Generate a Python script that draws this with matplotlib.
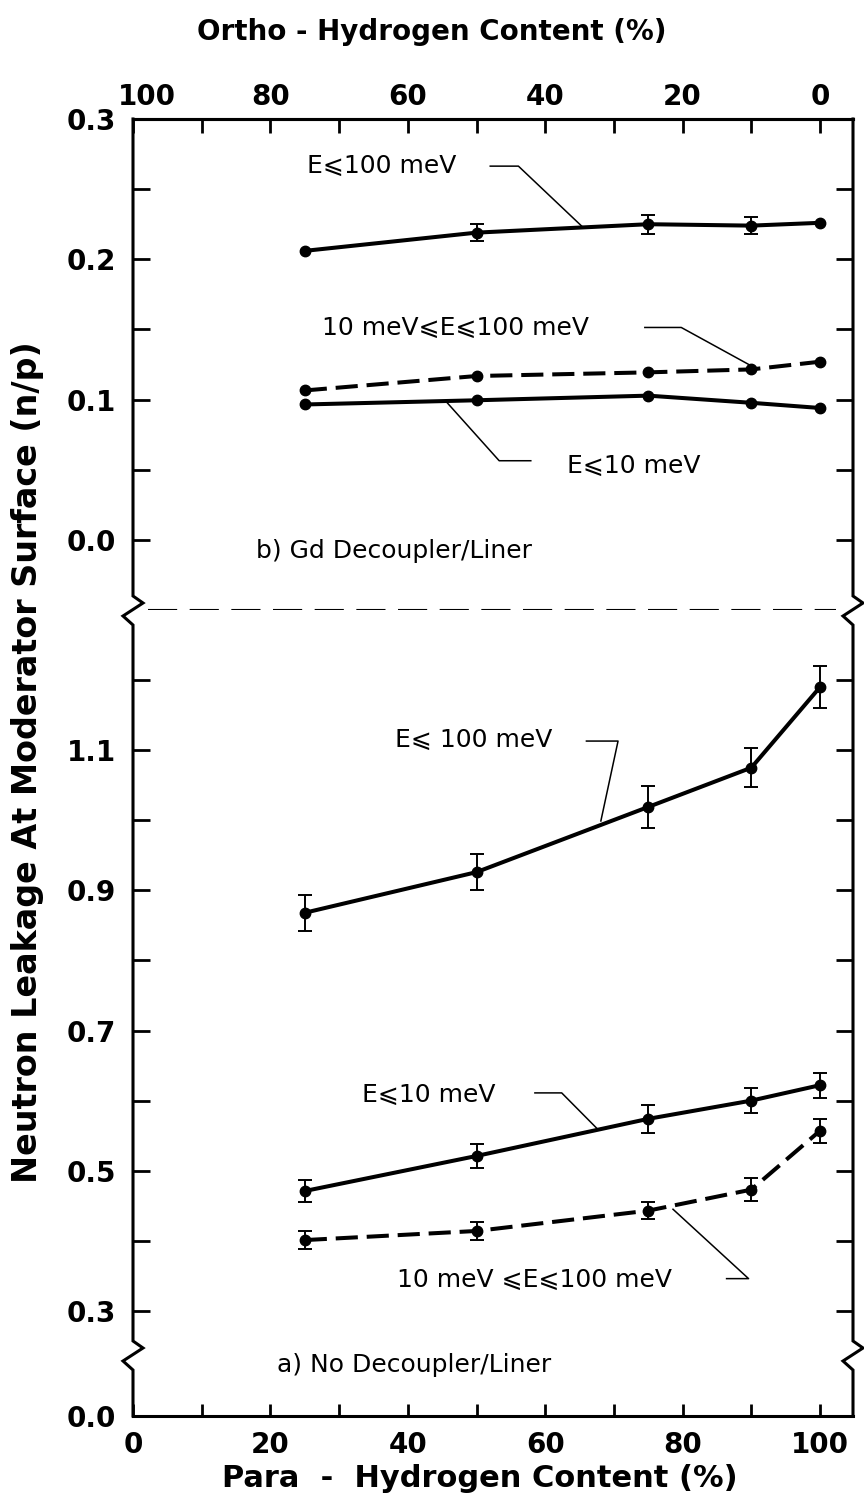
import numpy as np
import matplotlib
matplotlib.use("Agg")
import matplotlib.pyplot as plt
from matplotlib.lines import Line2D
from matplotlib.transforms import ScaledTranslation

# ---------------- data ----------------
para = [25, 50, 75, 90, 100]

# b) Gd Decoupler/Liner
b_e100 = [0.206, 0.219, 0.225, 0.224, 0.226]
b_e100_err = [np.nan, 0.006, 0.0067, 0.006, np.nan]
b_e10_100 = [0.1065, 0.1168, 0.1194, 0.1215, 0.127]
b_e10 = [0.0965, 0.0995, 0.1028, 0.0977, 0.094]

# a) No Decoupler/Liner
a_e100 = [0.868, 0.926, 1.019, 1.075, 1.190]
a_e100_err = [0.026, 0.026, 0.030, 0.028, 0.030]
a_e10 = [0.471, 0.521, 0.574, 0.600, 0.622]
a_e10_err = [0.016, 0.017, 0.020, 0.018, 0.018]
a_e10_100 = [0.401, 0.414, 0.443, 0.473, 0.557]
a_e10_100_err = [0.013, 0.013, 0.012, 0.016, 0.017]

b_yticks = [0.0, 0.1, 0.2, 0.3]
b_yminor = [0.05, 0.15, 0.25]
a_yticks = [0.0, 0.3, 0.5, 0.7, 0.9, 1.1]
a_yminor = [0.4, 0.6, 0.8, 1.0, 1.2]
x_ticks = [0, 20, 40, 60, 80, 100]
x_minor = [10, 30, 50, 70, 90]
ortho_ticks = [100, 80, 60, 40, 20, 0]
ortho_minor = [90, 70, 50, 30, 10]

LEQ = "\u2a7d"

plt.rcParams['font.family'] = ['DejaVu Sans']

W, H = 864, 1507
fig = plt.figure(figsize=(W / 100, H / 100), dpi=100)

xl, xr = 133, 853
y_top, y_mid, y_bot = 119, 610, 1416
L, R = xl / W, xr / W
axb = fig.add_axes([L, 1 - y_mid / H, R - L, (y_mid - y_top) / H])
axa = fig.add_axes([L, 1 - y_bot / H, R - L, (y_bot - y_mid) / H])

XMAX = 104.8
LW = 2.9
MS = 7.5
tick_fs = 20
ann_fs = 18

# broken scale for panel a: 0..0.3 compressed, 0.3.. linear
def fwd(y):
    y = np.asarray(y, dtype=float)
    return np.where(y < 0.3, y * 0.5, 0.15 + (y - 0.3))

def inv(u):
    u = np.asarray(u, dtype=float)
    return np.where(u < 0.15, u / 0.5, u - 0.15 + 0.3)

axa.set_yscale('function', functions=(fwd, inv))

for ax in (axb, axa):
    ax.set_xlim(0, XMAX)
    ax.spines['left'].set_visible(False)
    ax.spines['right'].set_visible(False)
    for s in ('top', 'bottom'):
        ax.spines[s].set_linewidth(2.2)

axb.spines['bottom'].set_visible(False)
axa.spines['top'].set_visible(False)

axb.set_ylim(-0.05, 0.3)
axa.set_ylim(0.0, 1.3)

axb.set_yticks(b_yticks)
axb.set_yticks(b_yminor, minor=True)
axb.set_yticklabels([f"{v:.1f}" for v in b_yticks], fontweight='bold', fontsize=tick_fs)
axa.set_yticks(a_yticks)
axa.set_yticks(a_yminor, minor=True)
axa.set_yticklabels([f"{v:.1f}" for v in a_yticks], fontweight='bold', fontsize=tick_fs)
for ax in (axb, axa):
    ax.tick_params(axis='y', which='both', direction='in', length=12, width=2.0,
                   left=True, right=True, pad=12)

axb.tick_params(axis='x', which='both', bottom=False, labelbottom=False, top=False)
axa.tick_params(axis='x', which='both', top=False, bottom=True, direction='in',
                length=9, width=2.0, pad=11)
axa.set_xticks(x_ticks)
axa.set_xticks(x_minor, minor=True)
axa.set_xticklabels([str(v) for v in x_ticks], fontweight='bold', fontsize=tick_fs)
axa.set_xlabel("Para  -  Hydrogen Content (%)", fontsize=22, fontweight='bold', labelpad=4)
axa.xaxis.set_label_coords((480 - xl) / (xr - xl), -0.06)

sec = axb.secondary_xaxis('top', functions=(lambda p: 100 - p, lambda o: 100 - o))
sec.spines['top'].set_linewidth(2.2)
sec.set_xticks(ortho_ticks)
sec.set_xticks(ortho_minor, minor=True)
sec.set_xticklabels([str(v) for v in ortho_ticks], fontweight='bold', fontsize=tick_fs)
sec.tick_params(axis='x', which='both', direction='in', length=10, width=2.0, pad=6)

# nudge the corner "100" label to the right, as in the original
t0 = sec.xaxis.get_major_ticks()[0]
for lab in (t0.label1, t0.label2):
    lab.set_transform(lab.get_transform() + ScaledTranslation(0.14, 0, fig.dpi_scale_trans))

fig.text(432 / W, 1 - 32 / H, "Ortho - Hydrogen Content (%)",
         ha='center', va='center', fontsize=20, fontweight='bold')

fig.text(28 / W, 1 - 762 / H, "Neutron Leakage At Moderator Surface (n/p)",
         rotation=90, ha='center', va='center', fontsize=24, fontweight='bold')

dash_style = (5.5, 2.2)

# ---------------- panel b ----------------
axb.plot(para, b_e100, '-', color='black', lw=LW, marker='o', ms=MS)
axb.errorbar(para, b_e100, yerr=b_e100_err, fmt='none', ecolor='black',
             elinewidth=1.4, capsize=5, capthick=1.4)
ln, = axb.plot(para, b_e10_100, '--', color='black', lw=LW, marker='o', ms=MS)
ln.set_dashes(dash_style)
axb.plot(para, b_e10, '-', color='black', lw=LW, marker='o', ms=MS)

# ---------------- panel a ----------------
axa.plot(para, a_e100, '-', color='black', lw=LW, marker='o', ms=MS)
axa.errorbar(para, a_e100, yerr=a_e100_err, fmt='none', ecolor='black',
             elinewidth=1.4, capsize=5, capthick=1.4)
axa.plot(para, a_e10, '-', color='black', lw=LW, marker='o', ms=MS)
axa.errorbar(para, a_e10, yerr=a_e10_err, fmt='none', ecolor='black',
             elinewidth=1.4, capsize=5, capthick=1.4)
ln, = axa.plot(para, a_e10_100, '--', color='black', lw=LW, marker='o', ms=MS)
ln.set_dashes(dash_style)
axa.errorbar(para, a_e10_100, yerr=a_e10_100_err, fmt='none', ecolor='black',
             elinewidth=1.4, capsize=5, capthick=1.4)

# ---------------- annotations ----------------
def leader(ax, xs, ys):
    ax.plot(xs, ys, '-', color='black', lw=1.1, clip_on=False)

axb.text(25.3, 0.2664, f"E{LEQ}100 meV", fontsize=ann_fs, va='center', ha='left')
leader(axb, [52.0, 56.1, 65.3], [0.2664, 0.2664, 0.2237])

axb.text(27.5, 0.1514, f"10 meV{LEQ}E{LEQ}100 meV", fontsize=ann_fs, va='center', ha='left')
leader(axb, [74.5, 79.8, 90.0], [0.1514, 0.1514, 0.124])

axb.text(63.2, 0.0529, f"E{LEQ}10 meV", fontsize=ann_fs, va='center', ha='left')
leader(axb, [57.9, 53.3, 45.5], [0.0564, 0.0564, 0.099])

axb.text(17.9, -0.008, "b) Gd Decoupler/Liner", fontsize=ann_fs, va='center', ha='left')

axa.text(38.1, 1.1147, f"E{LEQ} 100 meV", fontsize=ann_fs, va='center', ha='left')
leader(axa, [66.0, 70.6, 68.1], [1.113, 1.113, 0.999])

axa.text(33.4, 0.6086, f"E{LEQ}10 meV", fontsize=ann_fs, va='center', ha='left')
leader(axa, [58.5, 62.4, 67.7], [0.611, 0.611, 0.5586])

axa.text(38.4, 0.344, f"10 meV {LEQ}E{LEQ}100 meV", fontsize=ann_fs, va='center', ha='left')
leader(axa, [86.4, 89.6, 78.6], [0.346, 0.346, 0.445])

axa.text(20.9, 0.146, "a) No Decoupler/Liner", fontsize=ann_fs, va='center', ha='left')

# dashed break line between panels
bl, = axb.plot([2.2, 102.3], [-0.05, -0.05], color='black', lw=1.5, clip_on=False)
bl.set_dashes((14, 6))

# ---------------- frame sides with break marks ----------------
def side(x0, breaks):
    pts = [(x0, y_top)]
    for yb in breaks:
        pts += [(x0, yb - 14), (x0 + 10, yb - 7), (x0 - 10, yb + 6), (x0, yb + 15)]
    pts.append((x0, y_bot))
    xs = [p[0] / W for p in pts]
    ys = [1 - p[1] / H for p in pts]
    fig.add_artist(Line2D(xs, ys, color='black', lw=2.2, transform=fig.transFigure,
                          solid_joinstyle='miter'))

side(xl, [y_mid, 1355])
side(xr, [y_mid, 1355])

fig.savefig("out.png", dpi=100)
